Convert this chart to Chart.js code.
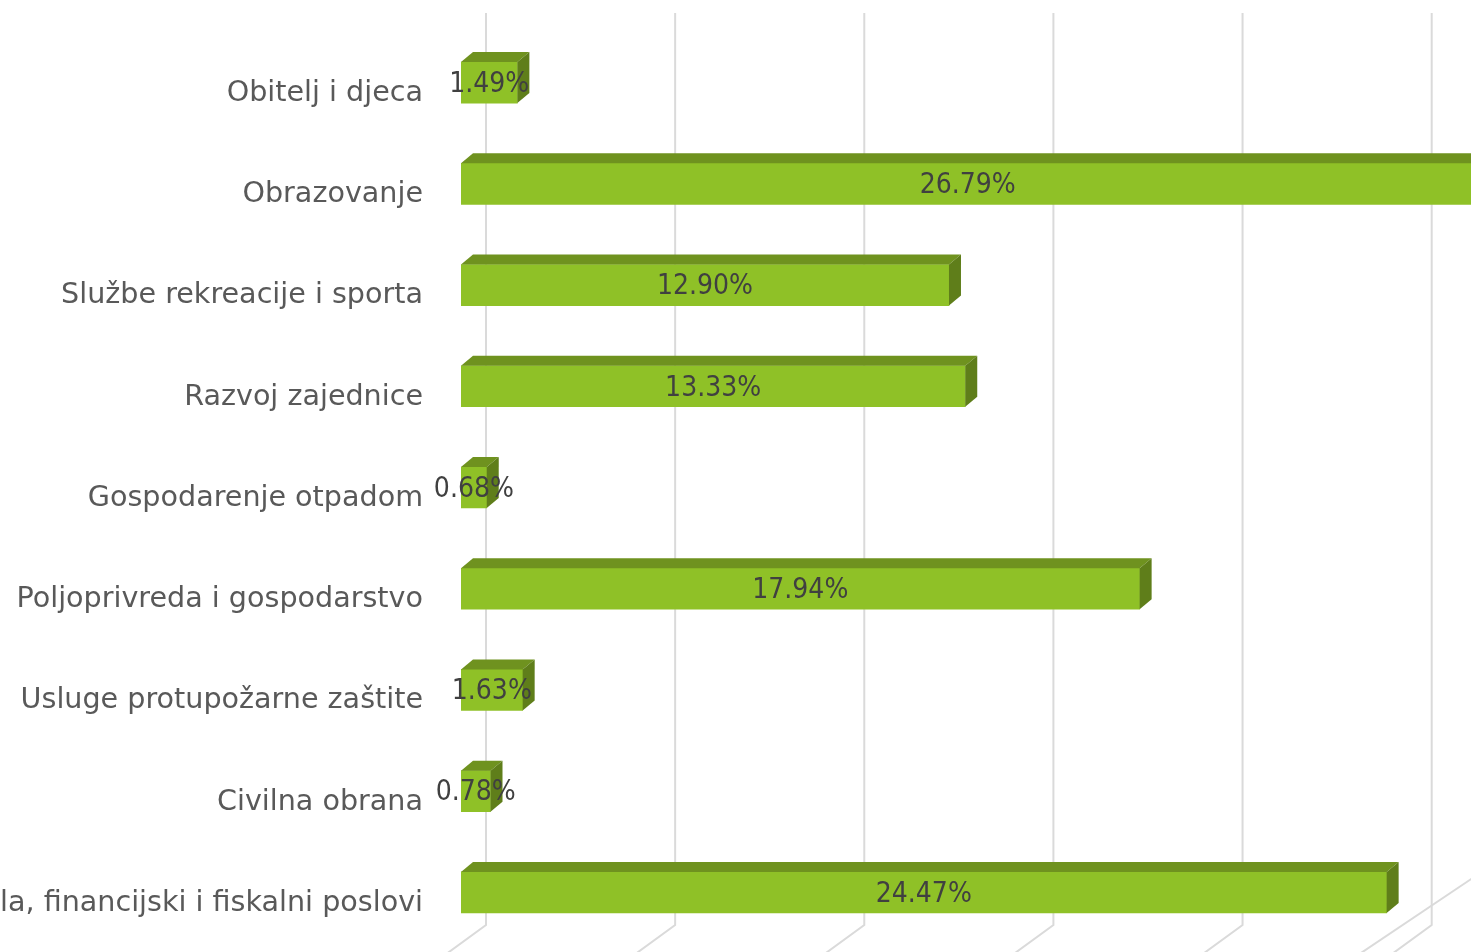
<!DOCTYPE html>
<html>
<head>
<meta charset="utf-8">
<script src="https://cdn.jsdelivr.net/npm/chart.js@4"></script>
<style>
  body { margin: 0; background: #fff; overflow: hidden; }
  #wrap { width: 1471px; height: 952px; }
</style>
</head>
<body>
<div id="wrap"><canvas id="myChart" width="1471" height="952"></canvas></div>
<script>
// categories and shares (%)
const categories = [
    'Obitelj i djeca',
    'Obrazovanje',
    'Službe rekreacije i sporta',
    'Razvoj zajednice',
    'Gospodarenje otpadom',
    'Poljoprivreda i gospodarstvo',
    'Usluge protupožarne zaštite',
    'Civilna obrana',
    'Izvršna i zakonodavna tijela, financijski i fiskalni poslovi'
];
const shares = [1.49, 26.79, 12.90, 13.33, 0.68, 17.94, 1.63, 0.78, 24.47];
const gridValues = [0, 5, 10, 15, 20, 25, 30];

// colours of the 3D faces
const frontColor = '#8fc127';
const topColor = '#6f921f';
const sideColor = '#5f7e1a';
const depthX = 12, depthY = 10;

// back wall gridlines + floor lines
const wallGrid = {
    id: 'wallGrid',
    beforeDatasetsDraw(chart) {
        const ctx = chart.ctx;
        const xs = chart.scales.x;
        const area = chart.chartArea;
        const top = area.top - 19;
        const floor = area.bottom - 18;
        ctx.save();
        ctx.strokeStyle = '#dadada';
        ctx.lineWidth = 2;
        gridValues.forEach(v => {
            const gx = xs.getPixelForValue(v) + 25;
            ctx.beginPath();
            ctx.moveTo(gx, top);
            ctx.lineTo(gx, floor);
            ctx.lineTo(gx - 37 * 2, floor + 27 * 2);
            ctx.stroke();
        });
        // floor edge
        const fx = xs.getPixelForValue(25) - 4;
        ctx.beginPath();
        ctx.moveTo(fx + 1.49 * 60, floor - 60);
        ctx.lineTo(fx - 1.49 * 60, floor + 60);
        ctx.stroke();
        ctx.restore();
    }
};

// top and side faces, value labels
const bars3d = {
    id: 'bars3d',
    afterDatasetsDraw(chart) {
        const ctx = chart.ctx;
        const meta = chart.getDatasetMeta(0);
        const area = chart.chartArea;
        ctx.save();
        meta.data.forEach((bar, i) => {
            const x0 = bar.base;
            const x1 = Math.min(bar.x, area.right + 20);
            const yT = bar.y - bar.height / 2;
            const yB = bar.y + bar.height / 2;
            // top
            ctx.fillStyle = topColor;
            ctx.beginPath();
            ctx.moveTo(x0, yT);
            ctx.lineTo(x0 + depthX, yT - depthY);
            ctx.lineTo(x1 + depthX, yT - depthY);
            ctx.lineTo(x1, yT);
            ctx.closePath();
            ctx.fill();
            // side
            ctx.fillStyle = sideColor;
            ctx.beginPath();
            ctx.moveTo(x1, yT);
            ctx.lineTo(x1 + depthX, yT - depthY);
            ctx.lineTo(x1 + depthX, yB - depthY);
            ctx.lineTo(x1, yB);
            ctx.closePath();
            ctx.fill();
        });
        // labels on the front face
        ctx.fillStyle = '#404040';
        ctx.font = '28px "DejaVu Sans Condensed", "DejaVu Sans"';
        ctx.textAlign = 'center';
        ctx.textBaseline = 'middle';
        meta.data.forEach((bar, i) => {
            const cx = (bar.base + bar.x) / 2;
            ctx.fillText(shares[i].toFixed(2) + '%', cx, bar.y + 2);
        });
        ctx.restore();
    }
};

const ctx = document.getElementById('myChart').getContext('2d');
const myChart = new Chart(ctx, {
    type: 'bar',
    data: {
        labels: categories,
        datasets: [{
            data: shares,
            backgroundColor: frontColor,
            borderWidth: 0,
            barThickness: 41
        }]
    },
    options: {
        indexAxis: 'y',
        responsive: false,
        animation: false,
        devicePixelRatio: 1,
        layout: { padding: { top: 32, bottom: 9, left: 0, right: 0 } },
        plugins: {
            legend: { display: false },
            tooltip: { enabled: false }
        },
        scales: {
            x: {
                display: false,
                min: 0,
                max: 26.7
            },
            y: {
                grid: { display: false },
                border: { display: false },
                afterFit(scale) {
                    scale.width = 461;
                    scale.paddingTop = 0;
                    scale.paddingBottom = 0;
                },
                ticks: {
                    padding: 30,
                    labelOffset: 11,
                    color: '#595959',
                    font: { family: '"DejaVu Sans"', size: 28.6 }
                }
            }
        }
    },
    plugins: [wallGrid, bars3d]
});
</script>
</body>
</html>
